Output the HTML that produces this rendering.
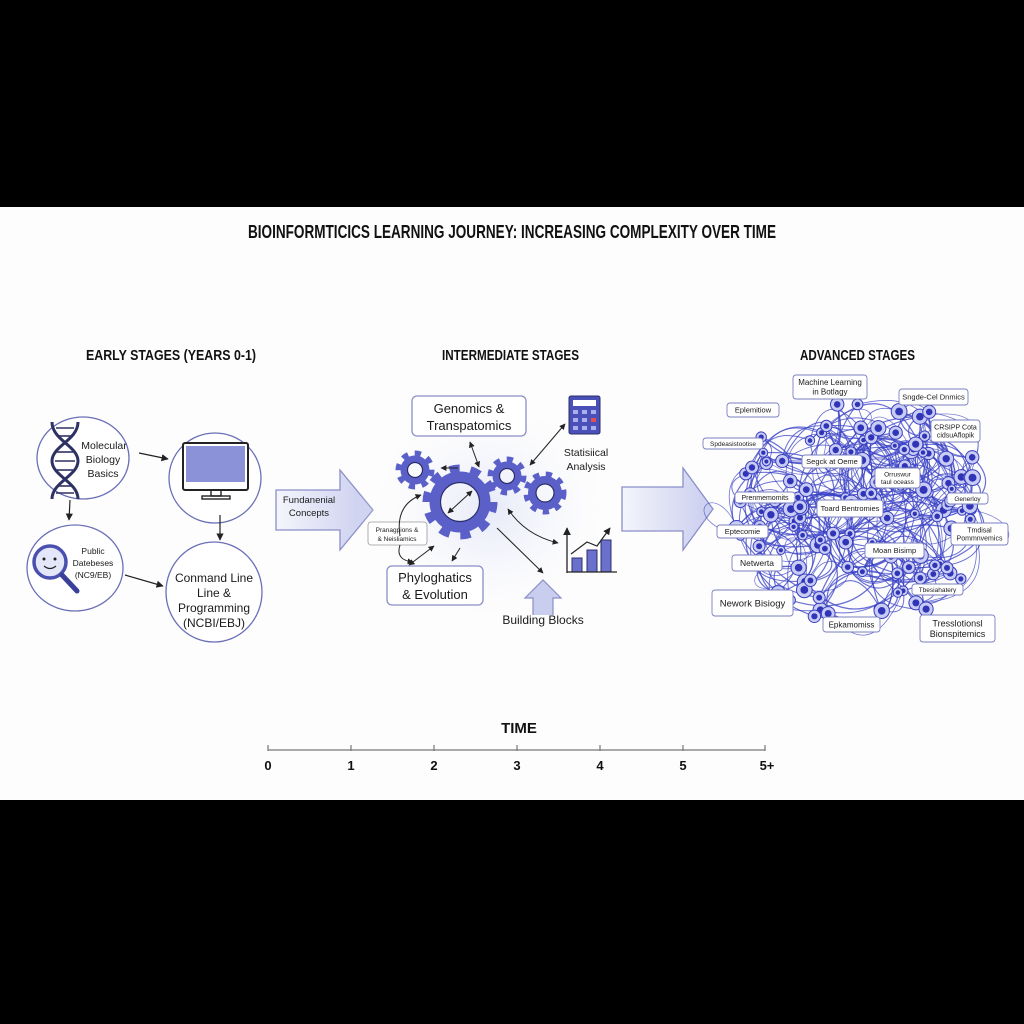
<!DOCTYPE html>
<html><head><meta charset="utf-8"><style>
html,body{margin:0;padding:0;background:#000;}
svg{display:block;}
text{font-family:"Liberation Sans",sans-serif;fill:#1a1a1a;}
.h{font-family:"Liberation Sans Narrow","Liberation Sans",sans-serif;font-weight:bold;fill:#111;}
</style></head><body>
<svg id="s" width="1024" height="1024" viewBox="0 0 1024 1024" xmlns="http://www.w3.org/2000/svg">
<defs>
<marker id="a" viewBox="0 0 10 10" refX="9" refY="5" markerWidth="6" markerHeight="6" orient="auto-start-reverse"><path d="M0,0L10,5L0,10z" fill="#222"/></marker>
<linearGradient id="ag" x1="0" x2="1"><stop offset="0" stop-color="#f4f5fc"/><stop offset="1" stop-color="#c9cdee"/></linearGradient>
<radialGradient id="blob"><stop offset="0" stop-color="#e6e9f8"/><stop offset="1" stop-color="#ffffff" stop-opacity="0"/></radialGradient>
</defs>
<rect x="0" y="207" width="1024" height="593" fill="#fdfdfd"/>
<text class="h" x="248" y="238" font-size="18" textLength="528" lengthAdjust="spacingAndGlyphs">BIOINFORMTICICS LEARNING JOURNEY: INCREASING COMPLEXITY OVER TIME</text>
<text class="h" x="86" y="360" font-size="15" textLength="170" lengthAdjust="spacingAndGlyphs">EARLY STAGES (YEARS 0-1)</text>
<text class="h" x="442" y="360" font-size="15" textLength="137" lengthAdjust="spacingAndGlyphs">INTERMEDIATE STAGES</text>
<text class="h" x="800" y="360" font-size="15" textLength="115" lengthAdjust="spacingAndGlyphs">ADVANCED STAGES</text>

<g fill="#fff" stroke="#6b6fb8" stroke-width="1.3">
<ellipse cx="83" cy="458" rx="46" ry="41"/>
<ellipse cx="215" cy="478" rx="46" ry="45"/>
<ellipse cx="75" cy="568" rx="48" ry="43"/>
<ellipse cx="214" cy="592" rx="48" ry="50"/>
</g>
<g stroke="#2e3163" stroke-width="3" fill="none">
<path d="M52,422 C52,440 78,446 78,461 C78,476 52,482 52,499"/>
<path d="M78,422 C78,440 52,446 52,461 C52,476 78,482 78,499"/>
</g>
<g stroke="#2e3163" stroke-width="1.6"><line x1="56" y1="428" x2="74" y2="428"/><line x1="58" y1="436" x2="72" y2="436"/><line x1="57" y1="452" x2="73" y2="452"/><line x1="55" y1="461" x2="75" y2="461"/><line x1="57" y1="470" x2="73" y2="470"/><line x1="58" y1="486" x2="72" y2="486"/><line x1="56" y1="493" x2="74" y2="493"/></g>
<text x="104" y="449" font-size="10.5" text-anchor="middle">Molecular</text>
<text x="103" y="463" font-size="10.5" text-anchor="middle">Biology</text>
<text x="103" y="477" font-size="10.5" text-anchor="middle">Basics</text>
<rect x="183" y="443" width="65" height="47" rx="2" fill="#fff" stroke="#222" stroke-width="2"/>
<rect x="186" y="446" width="59" height="36" fill="#8c92d8"/>
<rect x="211" y="490" width="10" height="6" fill="none" stroke="#222" stroke-width="1.4"/>
<rect x="202" y="496" width="28" height="3" fill="none" stroke="#222" stroke-width="1.4"/>
<circle cx="50" cy="562" r="16" fill="#e4e6fa" stroke="#4a50b0" stroke-width="3.5"/>
<line x1="62" y1="575" x2="77" y2="591" stroke="#3a3f9a" stroke-width="5" stroke-linecap="round"/>
<circle cx="44" cy="559" r="1.5" fill="#222"/><circle cx="55" cy="559" r="1.5" fill="#222"/>
<path d="M44,566 Q50,571 56,566" stroke="#222" fill="none" stroke-width="1.2"/>
<text x="93" y="554" font-size="8.5" text-anchor="middle">Public</text>
<text x="93" y="566" font-size="8.5" text-anchor="middle">Datebeses</text>
<text x="93" y="578" font-size="8.5" text-anchor="middle">(NC9/EB)</text>
<text x="214" y="582" font-size="12" text-anchor="middle">Conmand Line</text>
<text x="214" y="597" font-size="12" text-anchor="middle">Line &amp;</text>
<text x="214" y="612" font-size="12" text-anchor="middle">Programming</text>
<text x="214" y="627" font-size="12" text-anchor="middle">(NCBI/EBJ)</text>
<g stroke="#222" stroke-width="1.2" marker-end="url(#a)">
<line x1="139" y1="453" x2="168" y2="459"/>
<line x1="70" y1="500" x2="69" y2="520"/>
<line x1="220" y1="515" x2="220" y2="540"/>
<line x1="125" y1="575" x2="163" y2="586"/>
</g>
<path d="M276,490 L340,490 L340,470 L373,510 L340,550 L340,530 L276,530 Z" fill="url(#ag)" stroke="#8a8fc8" stroke-width="1.3"/>
<text x="309" y="503" font-size="9.5" text-anchor="middle">Fundanenial</text>
<text x="309" y="516" font-size="9.5" text-anchor="middle">Concepts</text>

<ellipse cx="490" cy="510" rx="135" ry="125" fill="url(#blob)"/>
<rect x="412" y="396" width="114" height="40" rx="5" fill="#fff" stroke="#8a8fc8" stroke-width="1.3"/>
<text x="469" y="413" font-size="13" text-anchor="middle">Genomics &amp;</text>
<text x="469" y="430" font-size="13" text-anchor="middle">Transpatomics</text>
<g fill="none" stroke="#5a60c8">
<circle cx="415" cy="470" r="16" stroke-width="7" stroke-dasharray="6 6.5"/>
<circle cx="415" cy="470" r="11" stroke-width="7"/>
<circle cx="460" cy="502" r="33" stroke-width="9" stroke-dasharray="10 10.7"/>
<circle cx="460" cy="502" r="25" stroke-width="11"/>
<circle cx="507" cy="476" r="16" stroke-width="7" stroke-dasharray="6 6.5"/>
<circle cx="507" cy="476" r="11" stroke-width="7"/>
<circle cx="545" cy="493" r="18" stroke-width="7" stroke-dasharray="6 6.2"/>
<circle cx="545" cy="493" r="13" stroke-width="8"/>
</g>
<g fill="none" stroke="#2a2f6a" stroke-width="1.2">
<circle cx="415" cy="470" r="7.5"/><circle cx="460" cy="502" r="19.5"/><circle cx="507" cy="476" r="7.5"/><circle cx="545" cy="493" r="9"/>
</g>
<rect x="569" y="396" width="31" height="38" rx="2" fill="#4a50b8" stroke="#2a2f6a"/>
<rect x="573" y="400" width="23" height="6" fill="#fff"/>
<g fill="#aab0ee"><rect x="573" y="410" width="5" height="4"/><rect x="582" y="410" width="5" height="4"/><rect x="591" y="410" width="5" height="4"/><rect x="573" y="418" width="5" height="4"/><rect x="582" y="418" width="5" height="4"/><rect x="573" y="426" width="5" height="4"/><rect x="582" y="426" width="5" height="4"/><rect x="591" y="426" width="5" height="4"/></g>
<rect x="591" y="418" width="5" height="4" fill="#e05050"/>
<text x="586" y="456" font-size="10.5" text-anchor="middle">Statisiical</text>
<text x="586" y="470" font-size="10.5" text-anchor="middle">Analysis</text>
<rect x="387" y="566" width="96" height="39" rx="5" fill="#fff" stroke="#8a8fc8" stroke-width="1.3"/>
<text x="435" y="582" font-size="13" text-anchor="middle">Phyloghatics</text>
<text x="435" y="599" font-size="13" text-anchor="middle">&amp; Evolution</text>
<rect x="368" y="522" width="59" height="23" rx="3" fill="#fff" stroke="#999" stroke-width="0.8"/>
<text x="397" y="532" font-size="6.5" text-anchor="middle">Pranagpions &amp;</text>
<text x="397" y="541" font-size="6.5" text-anchor="middle">&amp; Neisliamics</text>
<g fill="#6a70cc" stroke="#2a2f6a" stroke-width="1"><rect x="572" y="558" width="10" height="14"/><rect x="587" y="550" width="10" height="22"/><rect x="601" y="540" width="10" height="32"/></g>
<line x1="567" y1="572" x2="617" y2="572" stroke="#222" stroke-width="1.3"/>
<line x1="567" y1="573" x2="567" y2="528" stroke="#222" stroke-width="1.3" marker-end="url(#a)"/>
<polyline points="571,554 587,542 597,546 610,528" fill="none" stroke="#222" stroke-width="1.2" marker-end="url(#a)"/>
<path d="M533,615 L533,598 L525,598 L543,580 L561,598 L553,598 L553,615" fill="#c9cdee" stroke="#8a8fc8" stroke-width="1.2"/>
<text x="543" y="624" font-size="12" text-anchor="middle">Building Blocks</text>
<g stroke="#222" stroke-width="1" fill="none" marker-end="url(#a)" marker-start="url(#a)">
<line x1="470" y1="442" x2="479" y2="467"/>
<line x1="530" y1="465" x2="565" y2="424"/>
<line x1="448" y1="513" x2="472" y2="491"/>
<path d="M508,509 Q525,535 558,543"/>
<path d="M400,536 Q395,505 421,495" marker-start="none"/>
<path d="M400,545 Q395,560 413,562" marker-start="none"/>
<line x1="409" y1="565" x2="434" y2="546"/>
</g>
<g stroke="#222" stroke-width="1" marker-end="url(#a)">
<line x1="458" y1="468" x2="441" y2="468"/>
<line x1="460" y1="548" x2="452" y2="561"/>
<line x1="497" y1="528" x2="543" y2="573"/>
</g>

<path d="M622,487 L683,487 L683,468 L713,509 L683,550 L683,531 L622,531 Z" fill="url(#ag)" stroke="#8a8fc8" stroke-width="1.3"/>

<g id="net"></g>
<g id="lbl" font-size="8" text-anchor="middle"></g>

<text class="h" x="519" y="733" font-size="15" text-anchor="middle">TIME</text>
<line x1="268" y1="750" x2="765" y2="750" stroke="#777" stroke-width="1.3"/>
<g stroke="#777" stroke-width="1.2">
<line x1="268" y1="745" x2="268" y2="751"/><line x1="351" y1="745" x2="351" y2="751"/><line x1="434" y1="745" x2="434" y2="751"/><line x1="517" y1="745" x2="517" y2="751"/><line x1="600" y1="745" x2="600" y2="751"/><line x1="683" y1="745" x2="683" y2="751"/><line x1="765" y1="745" x2="765" y2="751"/>
</g>
<g font-size="13" text-anchor="middle">
<text class="h" x="268" y="770">0</text><text class="h" x="351" y="770">1</text><text class="h" x="434" y="770">2</text><text class="h" x="517" y="770">3</text><text class="h" x="600" y="770">4</text><text class="h" x="683" y="770">5</text><text class="h" x="767" y="770">5+</text>
</g>
</svg>
<script>
(function(){
var NS="http://www.w3.org/2000/svg";
var seed=11;function r(){seed=(seed*16807)%2147483647;return (seed-1)/2147483646;}
var net=document.getElementById('net');
function el(t,a,p){var e=document.createElementNS(NS,t);for(var k in a)e.setAttribute(k,a[k]);(p||net).appendChild(e);return e;}
var cx=860,cy=510,nodes=[];
for(var i=0;i<120;i++){var ang=r()*Math.PI*2,d=Math.sqrt(r());nodes.push([cx+Math.cos(ang)*d*125,cy+Math.sin(ang)*d*120]);}
var cnt=0,tries=0;
while(cnt<320&&tries<8000){tries++;var a=nodes[Math.floor(r()*nodes.length)],b=nodes[Math.floor(r()*nodes.length)];
var dx=b[0]-a[0],dy=b[1]-a[1],L=Math.sqrt(dx*dx+dy*dy);if(L<15||L>110)continue;cnt++;
var k=(r()<0.5?-1:1)*(0.4+r()*0.6);
var mx=(a[0]+b[0])/2-dy*k,my=(a[1]+b[1])/2+dx*k;
el('path',{d:'M'+a[0].toFixed(1)+','+a[1].toFixed(1)+' Q'+mx.toFixed(1)+','+my.toFixed(1)+' '+b[0].toFixed(1)+','+b[1].toFixed(1),fill:'none',stroke:'#3a41c6','stroke-width':(0.7+r()*0.6).toFixed(2),'stroke-opacity':'0.75'});}
for(var i=0;i<14;i++){var a=nodes[Math.floor(r()*nodes.length)];var ang=r()*Math.PI*2;
el('path',{d:'M'+a[0].toFixed(1)+','+a[1].toFixed(1)+' C'+(a[0]+Math.cos(ang)*70).toFixed(1)+','+(a[1]+Math.sin(ang)*70).toFixed(1)+' '+(a[0]+Math.cos(ang+1)*70).toFixed(1)+','+(a[1]+Math.sin(ang+1)*70).toFixed(1)+' '+a[0].toFixed(1)+','+a[1].toFixed(1),fill:'none',stroke:'#3d44c8','stroke-width':'0.8','stroke-opacity':'0.65'});}
nodes.forEach(function(n){var rr=4+r()*4;el('circle',{cx:n[0].toFixed(1),cy:n[1].toFixed(1),r:rr.toFixed(1),fill:'#c8ccf4',stroke:'#3a40c0','stroke-width':'1'});el('circle',{cx:n[0].toFixed(1),cy:n[1].toFixed(1),r:(rr*0.5).toFixed(1),fill:'#3035b8'});});
var Ls=[
[793,375,74,24,["Machine Learning","in Botlagy"],8],
[899,389,69,16,["Sngde-Cel Dnmics"],7.5],
[931,420,49,22,["CRSIPP Cota","cidsuAflopik"],7],
[727,403,52,14,["Eplemitiow"],7.5],
[703,438,60,11,["Spdeasistootise"],6.5],
[802,455,60,13,["Segck at Oeme"],7.5],
[875,468,45,20,["Orruswur","taul oceass"],6.5],
[735,492,60,11,["Prenmemomits"],7],
[817,500,66,17,["Toard Bentromies"],7.5],
[947,493,41,11,["Generloy"],6.5],
[717,525,51,13,["Eptecomie"],7.5],
[951,523,57,22,["Tmdisal","Pommnvemics"],7],
[865,543,59,15,["Moan Bisimp"],7.5],
[732,555,50,16,["Netwerta"],8.5],
[912,584,51,11,["Tbesiahatery"],6.5],
[712,590,81,26,["Nework Bisiogy"],9.5],
[823,617,57,15,["Epkamomiss"],8],
[920,615,75,27,["Tresslotionsl","Bionspitemics"],9]];
var lbl=document.getElementById('lbl');
Ls.forEach(function(l){el('rect',{x:l[0],y:l[1],width:l[2],height:l[3],rx:3,fill:'#fff',stroke:'#7a7fc0','stroke-width':'0.9'},lbl);
var n=l[4].length,fs=l[5];l[4].forEach(function(t,i){var tt=el('text',{x:l[0]+l[2]/2,y:(l[1]+l[3]/2+fs*0.36+(i-(n-1)/2)*fs*1.2).toFixed(1),'font-size':fs},lbl);tt.textContent=t;});});
})();
</script>
</body></html>
